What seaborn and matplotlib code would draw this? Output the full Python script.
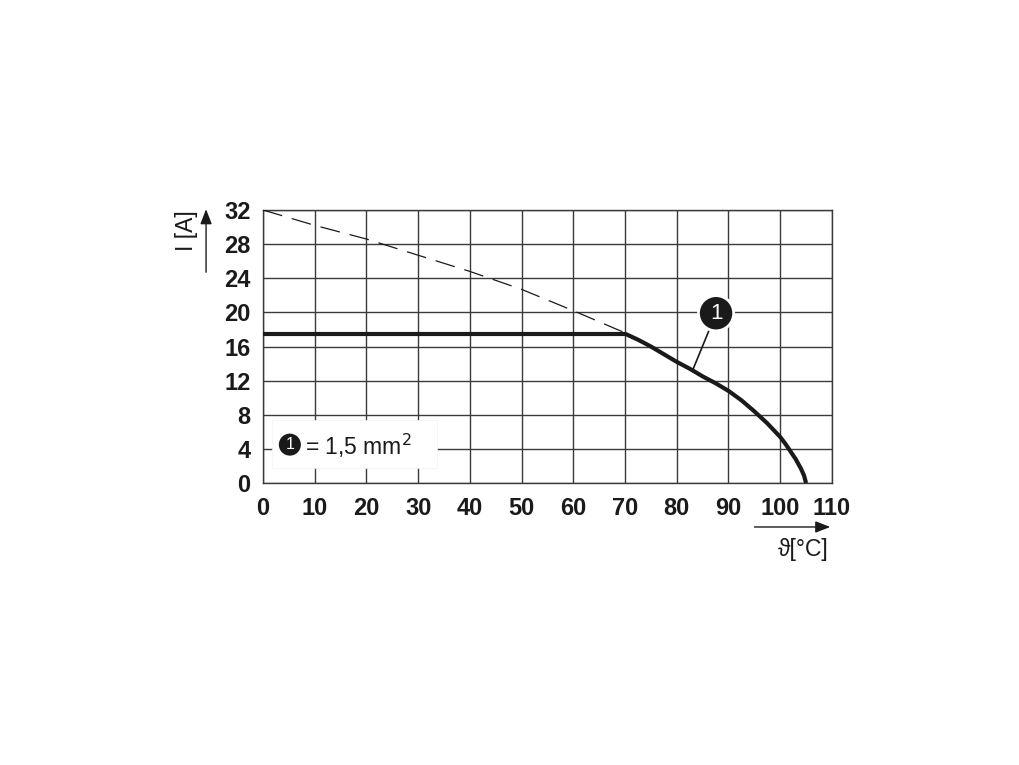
import matplotlib
matplotlib.use("Agg")
import matplotlib.pyplot as plt
import seaborn as sns
import pandas as pd
from matplotlib.patches import Rectangle

# derating curve
temp_flat = [0, 70]
current_flat = [17.5, 17.5]
temp_curve = [70, 72.5, 75, 77.5, 80, 82.5, 85, 87.5, 90, 92.5, 95, 97.5,
              100, 101, 102, 103, 104, 104.6, 105]
current_curve = [17.5, 16.8, 16.0, 15.1, 14.2, 13.4, 12.5, 11.7, 10.8, 9.7, 8.4, 7.0,
                 5.4, 4.6, 3.7, 2.8, 1.7, 0.9, 0.0]
temp_dashed = [0, 10, 20, 30, 40, 50, 60, 70]
current_dashed = [32, 30.2, 28.6, 26.7, 24.8, 22.7, 20.2, 17.6]
x_ticks = [0, 10, 20, 30, 40, 50, 60, 70, 80, 90, 100, 110]
y_ticks = [0, 4, 8, 12, 16, 20, 24, 28, 32]

sns.set_style("white")
plt.rcParams['font.family'] = ['Liberation Sans', 'DejaVu Sans']

fig = plt.figure(figsize=(10.2, 7.65), dpi=100)
ax = fig.add_axes([0.2578, 0.3686, 0.5578, 0.3569])

dark = '#1a1a1a'
grid_c = '#3a3a3a'

sns.lineplot(x=temp_dashed, y=current_dashed, ax=ax, color=dark, lw=0.9,
             linestyle=(0, (16, 8)), zorder=3)
sns.lineplot(x=temp_flat, y=current_flat, ax=ax, color=dark, lw=3.0,
             zorder=4, solid_capstyle='butt')
sns.lineplot(x=temp_curve, y=current_curve, ax=ax, color=dark, lw=3.0,
             zorder=4, solid_capstyle='butt', solid_joinstyle='round', sort=False)

ax.set_xlim(0, 110)
ax.set_ylim(0, 32)
ax.set_xticks(x_ticks)
ax.set_yticks(y_ticks)
ax.grid(True, color=grid_c, lw=1.0)
ax.set_axisbelow(True)
for s in ax.spines.values():
    s.set_color(grid_c)
    s.set_linewidth(1.0)
ax.tick_params(length=0, labelsize=17, colors=dark)
ax.tick_params(axis='x', pad=10)
ax.tick_params(axis='y', pad=9)
for lab in ax.get_xticklabels() + ax.get_yticklabels():
    lab.set_fontweight('bold')
ax.set_xlabel('')
ax.set_ylabel('')

# axis labels with arrows
ax.annotate('', xy=(-0.100, 1.013), xytext=(-0.100, 0.762), xycoords='axes fraction',
            arrowprops=dict(arrowstyle='-|>,head_length=0.9,head_width=0.35', color=dark, lw=1.0),
            annotation_clip=False)
ax.text(-0.1336, 0.925, 'I [A]', transform=ax.transAxes, rotation=90,
        ha='center', va='center', fontsize=16.5, color=dark)
ax.annotate('', xy=(1.002, -0.161), xytext=(0.859, -0.161), xycoords='axes fraction',
            arrowprops=dict(arrowstyle='-|>,head_length=0.9,head_width=0.35', color=dark, lw=1.0),
            annotation_clip=False)
ax.text(0.949, -0.242, 'ϑ[°C]', transform=ax.transAxes,
        ha='center', va='center', fontsize=16.5, color=dark)

# callout
ax.annotate('1', xy=(83.2, 13.4), xytext=(87.6, 19.9), ha='center', va='center',
            fontsize=16, color='white',
            bbox=dict(boxstyle='circle,pad=0.32', fc=dark, ec='white', lw=2),
            arrowprops=dict(arrowstyle='-', color=dark, lw=1.2, shrinkA=0, shrinkB=0),
            zorder=6)

# legend box
ax.add_patch(Rectangle((1.8, 1.75), 31.8, 5.65, fc='white', ec='#f2f2f2', lw=0.5, zorder=1.5))
ax.text(5.2, 4.5, '1', ha='center', va='center', fontsize=11.5, color='white',
        bbox=dict(boxstyle='circle,pad=0.22', fc=dark, ec='none'), zorder=5)
ax.text(8.2, 4.3, '= 1,5 mm$^2$', ha='left', va='center', fontsize=16.5, color=dark, zorder=5)

fig.savefig('out.png', dpi=100)
